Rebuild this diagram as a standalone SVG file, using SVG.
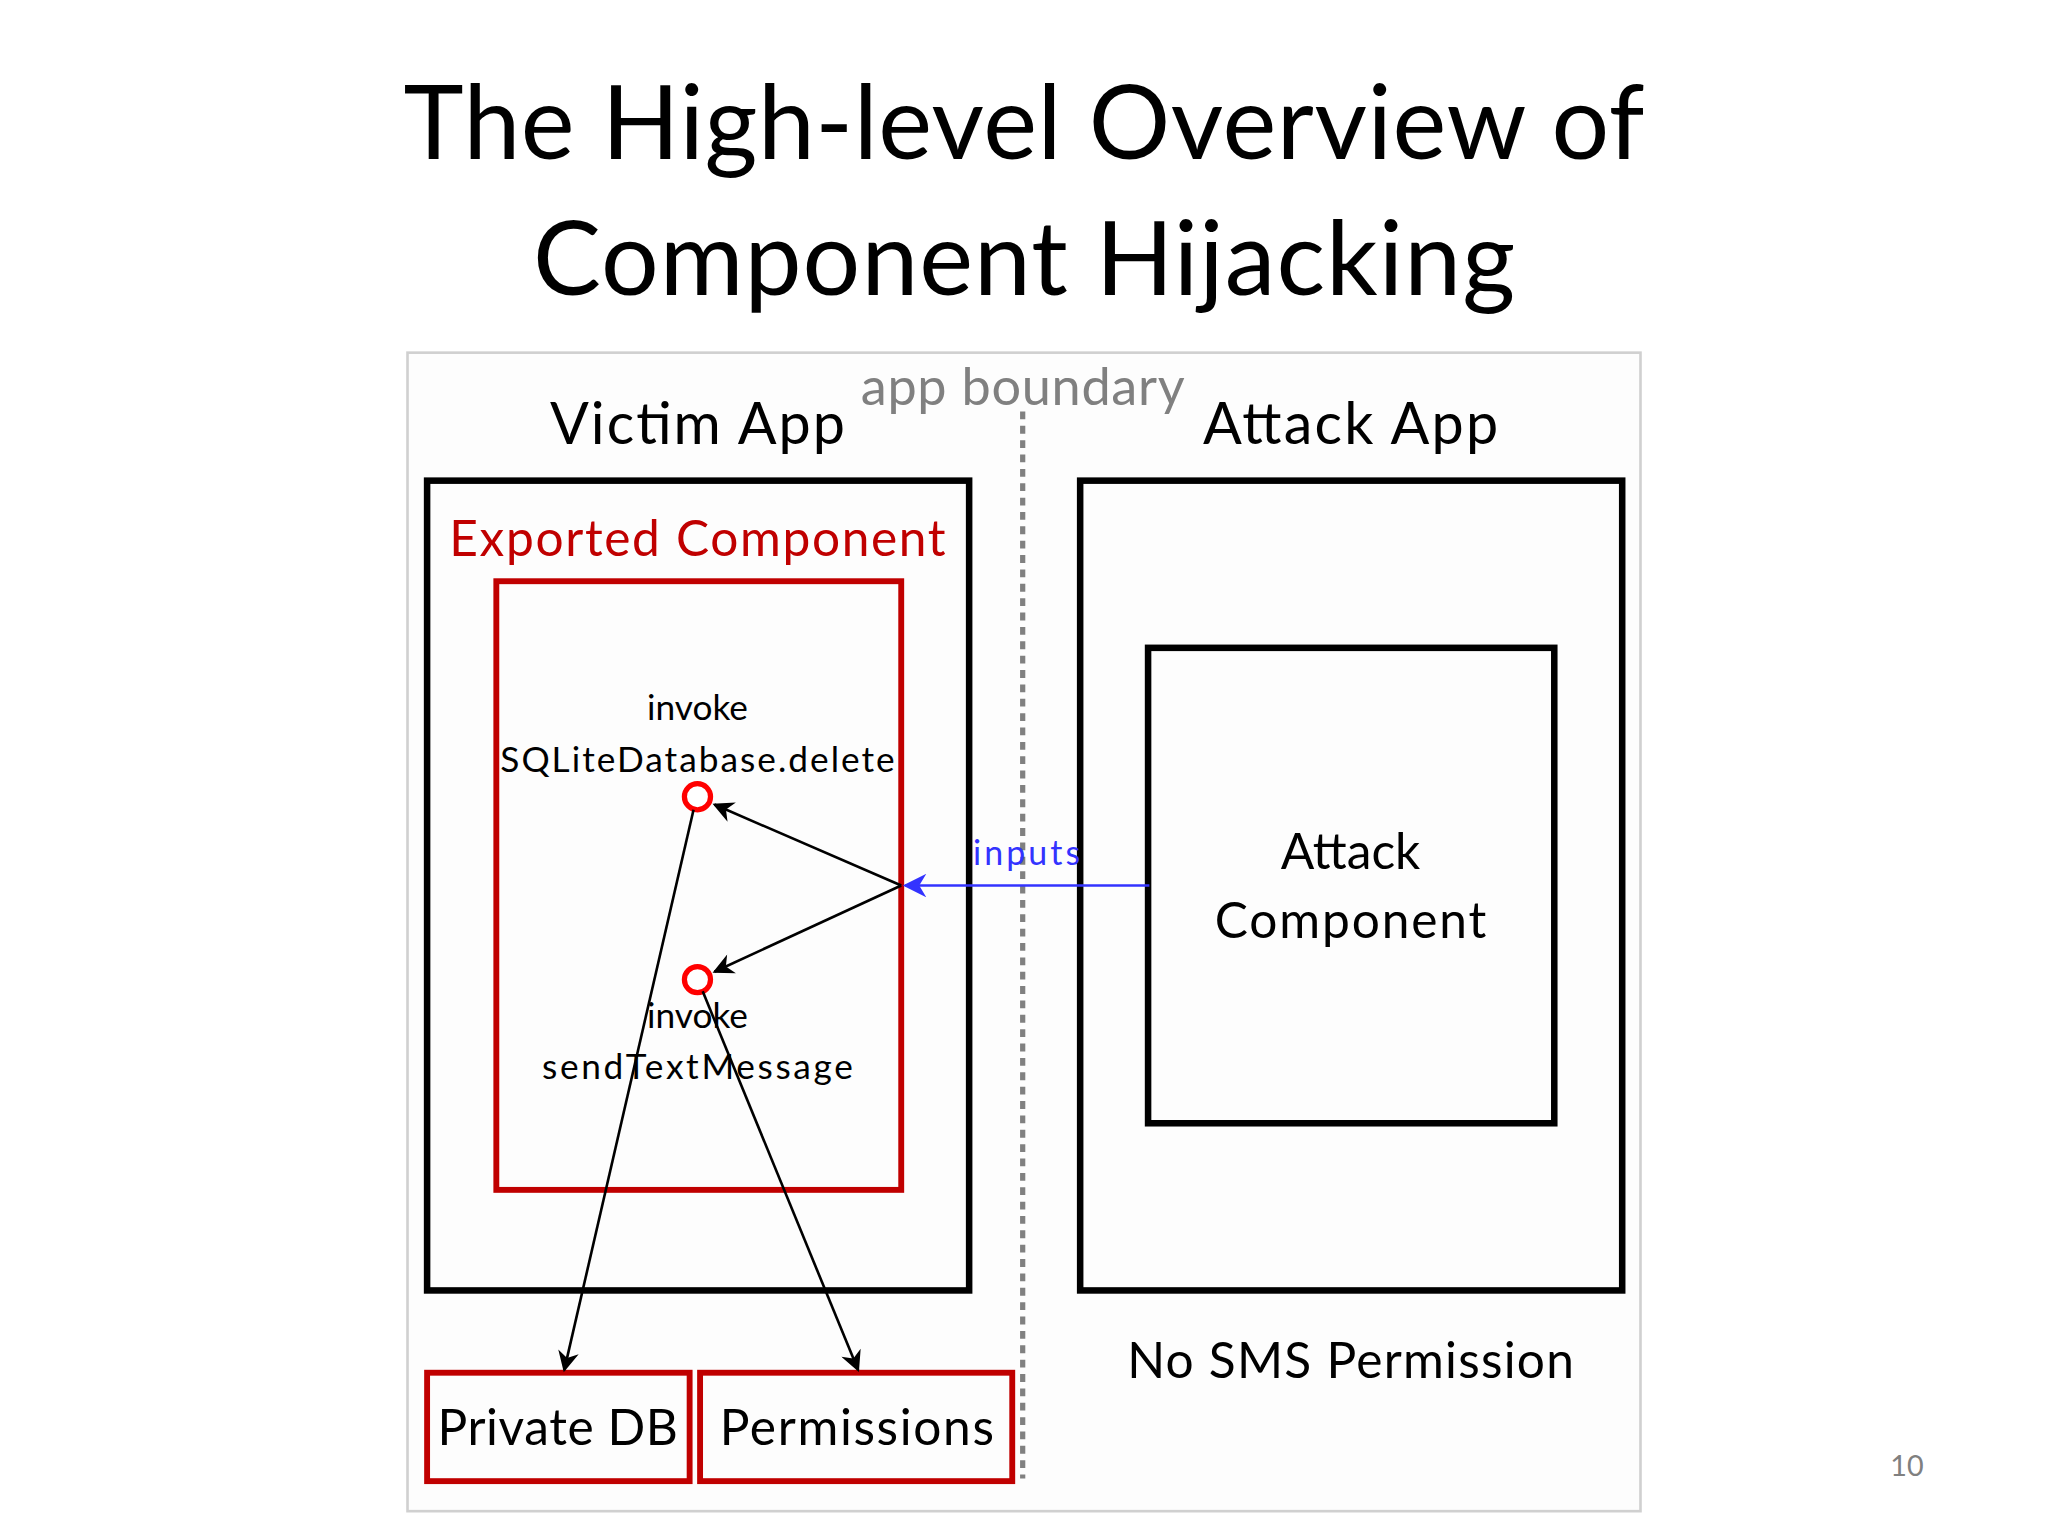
<svg xmlns="http://www.w3.org/2000/svg" width="2048" height="1536" viewBox="0 0 2048 1536">
<defs>
<style>
text{font-family:Lato,"Open Sans","DejaVu Sans",sans-serif;text-anchor:middle;fill:#000}
.blk{fill:none;stroke:#000;stroke-width:5}
.red{fill:none;stroke:#c00000;stroke-width:4.5}
.ln{stroke:#000;stroke-width:2;fill:none}
</style>
<marker id="ah" viewBox="0 0 10 10" refX="9" refY="5" markerWidth="19" markerHeight="16" orient="auto" markerUnits="userSpaceOnUse"><path d="M0,0 L10,5 L0,10 L3,5 z" fill="#000"/></marker>
<marker id="ab" viewBox="0 0 10 10" refX="9" refY="5" markerWidth="20" markerHeight="18" orient="auto" markerUnits="userSpaceOnUse"><path d="M0,0 L10,5 L0,10 L3,5 z" fill="#3333ff"/></marker>
</defs>
<rect width="2048" height="1536" fill="#fff"/>
<g transform="scale(1.30612)">
<g id="title">
<text x="784" y="122" font-size="78" textLength="950">The High-level Overview of</text>
<text x="784" y="226" font-size="78" textLength="752">Component Hijacking</text>
</g>
<rect x="312" y="270" width="944" height="887" fill="#fdfdfd" stroke="#d0d0d0" stroke-width="2"/>
<text x="534" y="340" font-size="44" textLength="226">Victim App</text>
<text x="783" y="310" font-size="40" style="fill:#808080" textLength="248">app boundary</text>
<text x="1034" y="340" font-size="44" textLength="226">Attack App</text>
<line x1="783" y1="315" x2="783" y2="1132" stroke="#808080" stroke-width="4" stroke-dasharray="6,5"/>
<g id="victim"><rect class="blk" x="327" y="368" width="415" height="620"/></g>
<g id="exported">
<text x="534" y="426" font-size="38" style="fill:#c00000" textLength="380">Exported Component</text>
<rect class="red" x="380" y="445" width="310" height="466"/>
<text x="534" y="551" font-size="27">invoke</text>
<text x="534" y="591" font-size="27" textLength="302">SQLiteDatabase.delete</text>
<text x="534" y="787" font-size="27">invoke</text>
<text x="534" y="826" font-size="27" textLength="238">sendTextMessage</text>
</g>
<g id="sink1"><circle cx="534" cy="610" r="10" fill="#fff" stroke="#ff0000" stroke-width="4"/></g>
<g id="sink2"><circle cx="534" cy="750" r="10" fill="#fff" stroke="#ff0000" stroke-width="4"/></g>
<g id="attackapp"><rect class="blk" x="827" y="368" width="415" height="620"/>
<text x="1034" y="1055" font-size="38" textLength="342">No SMS Permission</text></g>
<g id="attackcomp"><rect class="blk" x="879" y="496" width="311" height="364"/>
<text x="1034" y="665" font-size="38">Attack</text>
<text x="1034" y="718" font-size="38" textLength="208">Component</text></g>
<g id="privdb"><rect class="red" x="327" y="1051" width="201" height="83"/><text x="427" y="1106" font-size="38" textLength="184">Private DB</text></g>
<g id="perms"><rect class="red" x="536" y="1051" width="239" height="83"/><text x="656" y="1106" font-size="38" textLength="210">Permissions</text></g>
<g id="connectors">
<line x1="880" y1="678" x2="693" y2="678" stroke="#3333ff" stroke-width="2" marker-end="url(#ab)"/>
<text x="786" y="662" font-size="26" style="fill:#3333ff" textLength="82">inputs</text>
<line class="ln" x1="690" y1="678" x2="547" y2="616" marker-end="url(#ah)"/>
<line class="ln" x1="690" y1="678" x2="547" y2="744" marker-end="url(#ah)"/>
<line class="ln" x1="531" y1="620" x2="432" y2="1049" marker-end="url(#ah)"/>
<line class="ln" x1="538" y1="759" x2="657" y2="1049" marker-end="url(#ah)"/>
</g>
<text x="1460" y="1130" font-size="22" style="fill:#808080">10</text>
</g>
</svg>
